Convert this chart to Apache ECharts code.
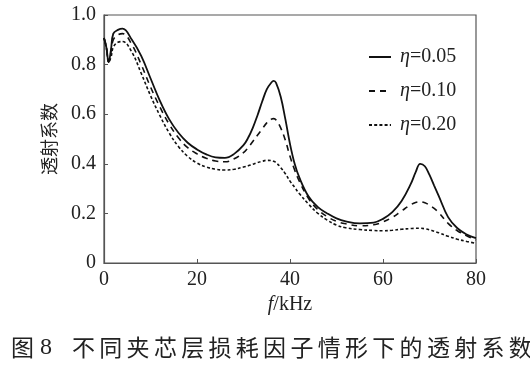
<!DOCTYPE html>
<html><head><meta charset="utf-8">
<script src="https://cdn.jsdelivr.net/npm/echarts@6/dist/echarts.min.js"></script>
<style>html,body{margin:0;padding:0;background:#fff}#c{width:530px;height:366px}</style>
</head><body><div id="c"></div>
<script>
var freq = [0,0.5,1,1.5,2,3,4,6,8,10,12,14,16,18,20,22,24,26,28,30,31,32,33,34,35,36,36.5,37,38,39,40,41,42,44,46,48,50,52,55,58,60,62,64,66,67,68,69,70,71,72,74,76,78,80];
var eta005 = [0.907,0.87,0.81,0.86,0.925,0.94,0.945,0.90,0.835,0.745,0.655,0.58,0.525,0.485,0.458,0.438,0.426,0.424,0.44,0.475,0.505,0.545,0.595,0.65,0.70,0.728,0.734,0.726,0.67,0.58,0.48,0.40,0.345,0.268,0.225,0.20,0.18,0.168,0.16,0.163,0.178,0.205,0.25,0.32,0.365,0.40,0.39,0.355,0.312,0.27,0.185,0.14,0.115,0.10];
var eta010 = [0.907,0.87,0.81,0.85,0.90,0.92,0.925,0.88,0.80,0.71,0.63,0.56,0.505,0.465,0.44,0.422,0.411,0.408,0.42,0.445,0.465,0.49,0.515,0.54,0.565,0.58,0.582,0.577,0.545,0.495,0.43,0.375,0.33,0.26,0.215,0.187,0.168,0.158,0.15,0.154,0.166,0.184,0.21,0.235,0.244,0.247,0.243,0.233,0.22,0.203,0.16,0.13,0.11,0.093];
var eta020 = [0.907,0.87,0.81,0.83,0.87,0.89,0.893,0.85,0.765,0.675,0.595,0.525,0.47,0.43,0.403,0.387,0.378,0.375,0.378,0.387,0.392,0.398,0.405,0.41,0.414,0.413,0.41,0.405,0.385,0.36,0.33,0.305,0.28,0.237,0.20,0.173,0.153,0.142,0.135,0.131,0.13,0.132,0.136,0.139,0.14,0.14,0.138,0.134,0.128,0.122,0.108,0.096,0.087,0.079];
var seriesNames = ['η=0.05','η=0.10','η=0.20'];
var xTicks = [0,20,40,60,80];
var yTicks = [0,0.2,0.4,0.6,0.8,1.0];
var yName = '透射系数';
var caption = ['图','8','不','同','夹','芯','层','损','耗','因','子','情','形','下','的','透','射','系','数'];

function pairs(v){ return freq.map(function(f,i){ return [f, v[i]]; }); }
var serif = '"Liberation Serif","DejaVu Serif",serif';
var cjk = '"Noto Sans CJK SC",sans-serif';

var chart = echarts.init(document.getElementById('c'));
var dashes = ['solid',[6,5],[3,2.2]];
var widths = [1.8,1.6,1.6];
var datas = [eta005, eta010, eta020];
var series = datas.map(function(d,i){
  return {
    name: seriesNames[i], type:'line', data: pairs(d), smooth: 0.4, symbol:'none',
    lineStyle:{color:'#111', width: widths[i], type: dashes[i]},
    itemStyle:{color:'#111'}
  };
});

var capEls = [];
var capX = [11,40];
for (var k=2;k<caption.length;k++) capX.push(72 + (k-2)*27.3);
caption.forEach(function(ch,k){
  capEls.push({type:'text', left: capX[k], top: 336,
    style:{text: ch, font: (k===1 ? '24px ' + serif : '23px ' + cjk), fill:'#222'}});
});

chart.setOption({
  animation:false,
  grid:{left:104, right:54, top:15, bottom:103, show:true, borderColor:'#555', borderWidth:1.2},
  legend:{
    orient:'vertical', left:363, top:42, itemWidth:22, itemHeight:14, itemGap:14,
    data: seriesNames,
    itemStyle:{color:'rgba(0,0,0,0)', borderWidth:0, opacity:0},
    textStyle:{fontFamily: serif, fontSize:20, color:'#222', padding:[0,0,0,4],
      rich:{i:{fontFamily: serif, fontStyle:'italic', fontSize:20, color:'#222'}, n:{fontFamily: serif, fontSize:20, color:'#222'}}},
    formatter:function(n){ return '{i|η}{n|' + n.slice(1) + '}'; }
  },
  xAxis:{
    type:'value', min:0, max:80, interval:20,
    name:'{i|f}{n|/kHz}', nameLocation:'middle', nameGap:30,
    nameTextStyle:{rich:{i:{fontFamily:serif,fontStyle:'italic',fontSize:20,color:'#222'},n:{fontFamily:serif,fontSize:20,color:'#222'}}},
    axisLine:{lineStyle:{color:'#555',width:1.2}},
    axisTick:{inside:true,length:4,lineStyle:{color:'#555'}},
    axisLabel:{fontFamily:serif,fontSize:20,color:'#222',margin:7,
      formatter:function(v){ return xTicks.indexOf(v)>=0 ? String(v) : ''; }},
    splitLine:{show:false}
  },
  yAxis:{
    type:'value', min:0, max:1, interval:0.2,
    name: yName, nameLocation:'middle', nameGap:46, nameRotate:90,
    nameTextStyle:{fontFamily:cjk,fontSize:18,color:'#222'},
    axisLine:{show:true,lineStyle:{color:'#555',width:1.2}},
    axisTick:{show:true,inside:true,length:4,lineStyle:{color:'#555'}},
    axisLabel:{fontFamily:serif,fontSize:20,color:'#222',margin:8,
      formatter:function(v){ var t = yTicks.filter(function(y){return Math.abs(y-v)<1e-9;}); return t.length ? (v===0 ? '0' : v.toFixed(1)) : ''; }},
    splitLine:{show:false}
  },
  series: series,
  graphic: capEls
});
</script></body></html>
